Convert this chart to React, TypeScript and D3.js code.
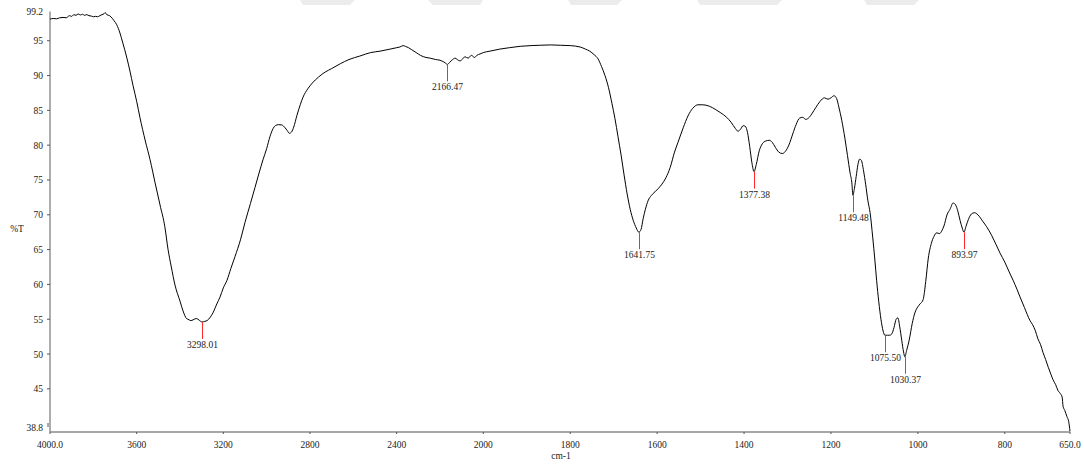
import React from "react";
import * as d3 from "d3";

const wavenumbers: number[] = [
  4000, 3985, 3970, 3955, 3940, 3925, 3910, 3900, 3890, 3880, 3870, 3860, 3850, 3840, 3830, 3820, 3810, 3800, 3790, 3780, 3770, 3760, 3750, 3746, 3738, 3725, 3712, 3705, 3692, 3677, 3665, 3655, 3645, 3630, 3617, 3600, 3585, 3560, 3538, 3515, 3492, 3470, 3455, 3440, 3423, 3400, 3386, 3370, 3363, 3350, 3340, 3325, 3317, 3305, 3298, 3285, 3275, 3260, 3248, 3230, 3215, 3200, 3183, 3165, 3146, 3120, 3100, 3075, 3054, 3035, 3017, 3000, 2985, 2970, 2960, 2945, 2930, 2915, 2905, 2895, 2885, 2875, 2860, 2845, 2832, 2810, 2790, 2760, 2730, 2700, 2660, 2620, 2570, 2520, 2477, 2430, 2400, 2385, 2370, 2360, 2345, 2330, 2310, 2290, 2265, 2245, 2220, 2200, 2185, 2175, 2166, 2155, 2145, 2130, 2120, 2108, 2095, 2085, 2070, 2055, 2040, 2030, 2015, 2000, 1985, 1962, 1940, 1915, 1890, 1870, 1845, 1823, 1800, 1777, 1765, 1755, 1745, 1736, 1728, 1720, 1712, 1704, 1697, 1690, 1683, 1676, 1669, 1662, 1655, 1648, 1642, 1637, 1632, 1627, 1621, 1613, 1605, 1597, 1589, 1580, 1570, 1560, 1552, 1540, 1529, 1518, 1506, 1495, 1480, 1465, 1455, 1440, 1430, 1420, 1414, 1408, 1402, 1397, 1392, 1387, 1382, 1377, 1372, 1365, 1358, 1350, 1342, 1335, 1328, 1320, 1312, 1305, 1297, 1288, 1280, 1272, 1265, 1258, 1250, 1243, 1235, 1225, 1215, 1207, 1200, 1193, 1187, 1182, 1175, 1168, 1162, 1156, 1152, 1149.5, 1146, 1142, 1138, 1134, 1130, 1125, 1120, 1115, 1110, 1104, 1099, 1095, 1090, 1085, 1080, 1076, 1070, 1065, 1060, 1055, 1050, 1046, 1042, 1037, 1033, 1030, 1026, 1020, 1013, 1007, 1000, 995, 988, 982, 976, 969, 963, 957, 950, 945, 940, 933, 926, 919, 913, 908, 903, 898, 894, 889, 884, 877, 870, 862, 850, 842, 830, 820, 811, 800, 790, 781, 772, 765, 755, 742, 736, 730, 724, 718, 712, 706, 700, 694, 689, 683, 678, 672, 668, 666, 662, 657, 653, 650,
];

const transmittance: number[] = [
  98.1, 98.2, 98.15, 98.3, 98.35, 98.3, 98.6, 98.5, 98.75, 98.65, 98.85, 98.7, 98.8, 98.65, 98.75, 98.6, 98.55, 98.45, 98.5, 98.45, 98.6, 98.75, 98.9, 99.05, 98.75, 98.6, 98.2, 97.9, 97.3, 96.1, 94.8, 93.7, 92.5, 90.5, 88.6, 86.3, 84.0, 80.6, 77.9, 74.6, 71.4, 68.3, 65.0, 62.5, 59.9, 57.6, 56.2, 55.1, 55.0, 54.8, 54.9, 55.1, 55.0, 54.7, 54.6, 54.7, 54.8, 55.3, 55.9, 57.2, 58.2, 59.5, 60.6, 62.3, 64.0, 66.5, 68.9, 71.6, 73.9, 76.0, 77.9, 79.5, 81.2, 82.4, 82.8, 82.95, 82.9, 82.5, 82.1, 81.7, 81.9, 82.6, 84.3, 85.8, 86.9, 88.1, 88.9, 89.8, 90.5, 91.0, 91.7, 92.3, 92.8, 93.3, 93.5, 93.8, 94.0, 94.1, 94.3, 94.2, 94.0, 93.7, 93.3, 92.9, 92.6, 92.5, 92.3, 92.2, 92.0, 91.8, 91.6, 91.9, 92.2, 92.5, 92.3, 92.1, 92.4, 92.7, 92.5, 92.9, 92.6, 92.9, 93.1, 93.3, 93.5, 93.8, 94.0, 94.2, 94.3, 94.35, 94.4, 94.35, 94.3, 94.1, 93.8, 93.5, 93.0, 92.4, 91.3, 90.0, 88.3, 86.0, 83.8, 81.2, 78.6, 75.7, 73.0, 70.8, 69.2, 68.1, 67.5, 67.9, 69.5, 70.8, 72.0, 72.8, 73.3, 73.8, 74.4, 75.3, 76.8, 79.0, 80.4, 82.5, 84.2, 85.3, 85.8, 85.8, 85.6, 85.1, 84.7, 84.0, 83.3, 82.4, 82.0, 82.3, 82.8, 82.7, 81.8, 79.8, 77.5, 76.2, 77.2, 79.2, 80.2, 80.6, 80.7, 80.4, 79.7, 79.0, 78.8, 79.1, 80.0, 81.6, 83.0, 83.9, 84.0, 83.7, 84.0, 84.6, 85.4, 86.3, 86.8, 86.6, 86.8, 87.1, 86.7, 85.5, 83.5, 81.0, 78.5, 76.0, 74.6, 72.8, 73.8, 75.5, 77.2, 78.0, 77.8, 76.3, 74.3, 72.0, 70.3, 66.8, 63.5, 60.6, 57.5, 55.0, 53.3, 52.7, 52.7, 52.7, 52.9, 53.8, 55.0, 55.2, 54.0, 51.9, 50.3, 49.6, 50.5, 52.0, 54.4, 55.9, 56.8, 57.2, 57.8, 60.4, 63.8, 65.9, 66.9, 67.4, 67.3, 67.7, 68.4, 70.0, 70.8, 71.7, 71.4, 70.5, 69.2, 68.1, 67.5, 68.4, 69.3, 70.1, 70.3, 70.0, 69.0, 68.3, 67.0, 65.7, 64.5, 63.2, 61.8, 60.6, 59.3, 58.2, 56.7, 54.8, 54.2, 53.4, 52.2, 51.4, 50.2, 49.2, 48.1, 47.1, 46.3, 45.6, 44.8, 44.3, 43.8, 42.5, 41.9, 41.0, 40.3, 38.9,
];

const peakWavenumbers: number[] = [3298.01, 2166.47, 1641.75, 1377.38, 1149.48, 1075.5, 1030.37, 893.97];
const peakValues: number[] = [54.6, 91.6, 67.5, 76.2, 72.8, 52.7, 49.6, 67.5];

const xTicks: number[] = [4000, 3600, 3200, 2800, 2400, 2000, 1800, 1600, 1400, 1200, 1000, 800, 650];
const xTickLabels: string[] = ["4000.0", "3600", "3200", "2800", "2400", "2000", "1800", "1600", "1400", "1200", "1000", "800", "650.0"];
const yTicks: number[] = [95, 90, 85, 80, 75, 70, 65, 60, 55, 50, 45];
const yMin = 38.8;
const yMax = 99.2;

// faint watermark band at the top of the page (decorative)
const watermark: [number, number, number, number][] = [
  [300, 355, 303, 350],
  [428, 483, 433, 480],
  [568, 622, 571, 617],
  [697, 782, 700, 777],
  [864, 919, 867, 914],
];

export default function App() {
  const W = 1084;
  const H = 469;
  const x = d3.scaleLinear().domain([4000, 2000, 650]).range([50, 483.3, 1070]);
  const y = d3.scaleLinear().domain([yMin, yMax]).range([432, 11.5]);
  const data = wavenumbers.map((w, i) => [w, transmittance[i]] as [number, number]);
  const line = d3
    .line<[number, number]>()
    .x((d) => x(d[0]))
    .y((d) => y(d[1]))
    .curve(d3.curveMonotoneX);
  const font = "'Liberation Serif', 'Times New Roman', serif";
  const txt = "#222";
  return (
    <svg width={W} height={H} style={{ position: "absolute", left: 0, top: 0, background: "#fff" }}>
      <rect x={0} y={0} width={W} height={H} fill="#fff" />
      {watermark.map((p, i) => (
        <polygon key={i} points={`${p[0]},0 ${p[1]},0 ${p[3]},5 ${p[2]},5`} fill="#ececec" />
      ))}
      {/* axes */}
      <line x1={50} y1={y(yMax)} x2={50} y2={y(yMin)} stroke="#8a8a8a" strokeWidth={1.4} />
      <line x1={50} y1={y(yMin)} x2={x(650)} y2={y(yMin)} stroke="#8a8a8a" strokeWidth={1.4} />
      {yTicks.map((t) => (
        <g key={t}>
          <line x1={47} x2={50} y1={y(t)} y2={y(t)} stroke="#555" strokeWidth={1} />
          <text x={43} y={y(t) + 3.5} textAnchor="end" fontFamily={font} fontSize={9.5} fill={txt}>
            {t}
          </text>
        </g>
      ))}
      <text x={43} y={y(yMax) + 3} textAnchor="end" fontFamily={font} fontSize={9.5} fill={txt}>
        {yMax.toFixed(1)}
      </text>
      <line x1={48} x2={48} y1={423} y2={427} stroke="#555" strokeWidth={1} />
      <text x={43} y={431} textAnchor="end" fontFamily={font} fontSize={9.5} fill={txt}>
        {yMin.toFixed(1)}
      </text>
      <text x={17} y={232} textAnchor="middle" fontFamily={font} fontSize={9.5} fill={txt}>
        %T
      </text>
      {xTicks.map((t, i) => (
        <g key={t}>
          <line x1={x(t)} x2={x(t)} y1={y(yMin)} y2={y(yMin) + 2} stroke="#555" strokeWidth={1} />
          <text x={x(t)} y={448} textAnchor="middle" fontFamily={font} fontSize={9.5} fill={txt}>
            {xTickLabels[i]}
          </text>
        </g>
      ))}
      <text x={561} y={459} textAnchor="middle" fontFamily={font} fontSize={9.5} fill={txt}>
        cm-1
      </text>
      {/* spectrum */}
      <path d={line(data) || ""} fill="none" stroke="#000" strokeWidth={1} />
      {/* peak markers */}
      {peakWavenumbers.map((p, i) => {
        const px = Math.round(x(p)) + 0.5;
        const py = y(peakValues[i]);
        return (
          <g key={p}>
            <line x1={px} x2={px} y1={py} y2={py + 17} stroke="#ff2a2a" strokeWidth={1} />
            <text x={px} y={py + 26} textAnchor="middle" fontFamily={font} fontSize={9.5} fill={txt}>
              {p.toFixed(2)}
            </text>
          </g>
        );
      })}
    </svg>
  );
}
